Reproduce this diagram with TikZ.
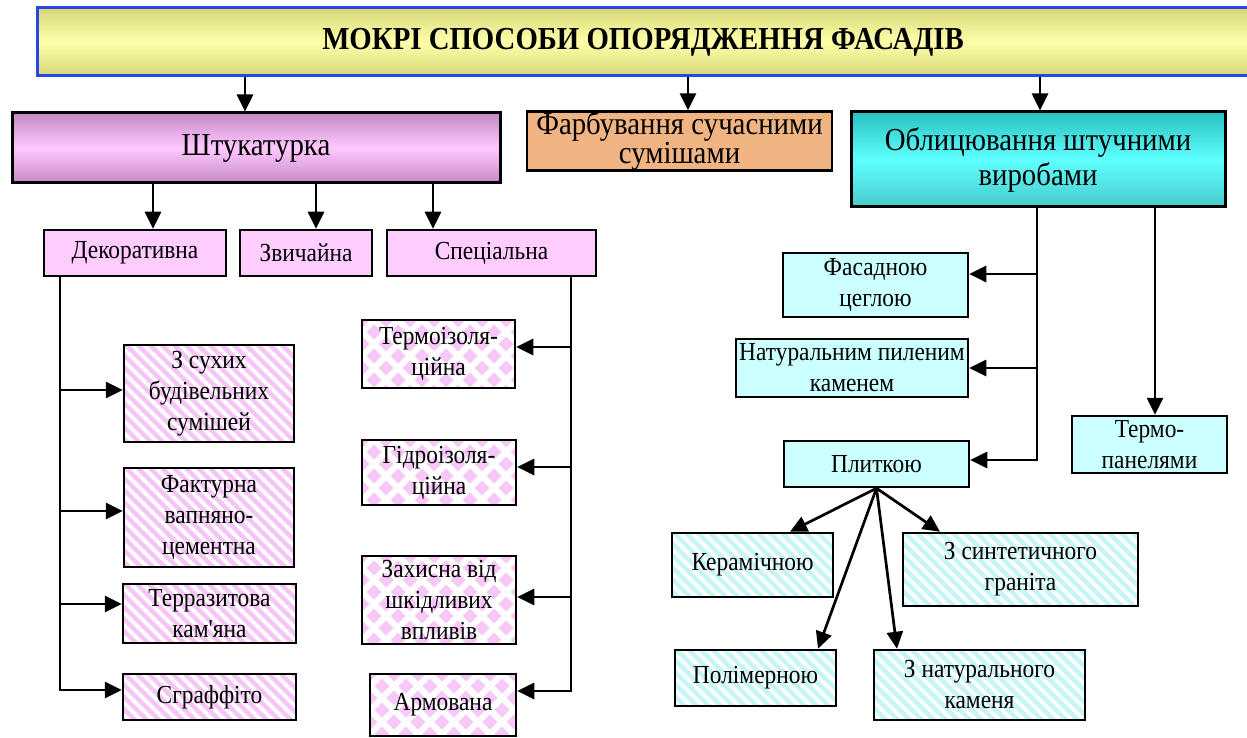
\documentclass[tikz,border=0pt]{standalone}
\usepackage{fontspec}
\setmainfont{Liberation Serif}[FakeStretch=0.9]
\newfontfamily\plainrm{Liberation Serif}[FakeStretch=0.9]
\usetikzlibrary{arrows.meta,calc}
\definecolor{stripepink}{RGB}{246,196,246}
\definecolor{diapink}{RGB}{248,200,248}
\definecolor{stripecyan}{RGB}{196,246,246}
\definecolor{solidpink}{RGB}{255,204,255}
\definecolor{solidcyan}{RGB}{204,255,255}
\definecolor{tan}{RGB}{240,180,130}
\definecolor{purpedge}{RGB}{196,136,196}
\definecolor{purpmid}{RGB}{255,200,255}
\definecolor{cyanedge}{RGB}{40,192,192}
\definecolor{cyanmid}{RGB}{96,255,255}
\definecolor{yeledge}{RGB}{214,214,120}
\definecolor{yelmid}{RGB}{255,255,170}
\definecolor{titleblue}{RGB}{40,70,230}
\newcommand{\fsz}[2]{\fontsize{#1}{#2}\selectfont}
\newcommand{\apos}{{\plainrm\char39}}
\begin{document}
\begin{tikzpicture}[x=1pt,y=-1pt,
  box/.style={draw=black, line width=2.5pt, align=center, inner sep=0pt, text=black, font=\fsz{26}{31}},
  bigbox/.style={box, line width=3pt},
  titlebox/.style={draw=titleblue, line width=3pt, top color=yeledge, bottom color=yeledge, middle color=yelmid, align=center, inner sep=0pt, font=\bfseries\fsz{32}{36}},
  purpbox/.style={bigbox, top color=purpedge, bottom color=purpedge, middle color=purpmid, font=\fsz{32}{36}},
  cyanbox/.style={bigbox, top color=cyanedge, bottom color=cyanedge!85!white, middle color=cyanmid, font=\fsz{32}{35}},
  tanbox/.style={box, fill=tan, font=\fsz{32}{27}},
  pinkbox/.style={box, fill=solidpink},
  cyansolid/.style={box, fill=solidcyan},
  stripes/.style={box, fill=white, path picture={
      \foreach \k in {-130,-118,...,250}{
        \draw[line width=4.4pt,#1] ([xshift=\k pt]path picture bounding box.north west) -- ++(140,140);}}},
  diamonds/.style={box, fill=white, path picture={
      \foreach \i in {0,24,...,192}{\foreach \j in {0,24,...,120}{
        \fill[#1] ($(path picture bounding box.north west)+(\i,\j)$) +(-7.5,0) -- +(0,7.5) -- +(7.5,0) -- +(0,-7.5) -- cycle;
        \fill[#1] ($(path picture bounding box.north west)+(\i+12,\j+12)$) +(-7.5,0) -- +(0,7.5) -- +(7.5,0) -- +(0,-7.5) -- cycle;}}}},
  arr/.style={-{Triangle[length=17pt,width=16pt]}, line width=2.7pt},
]
\useasboundingbox (0,0) rectangle (1247,738);
\fill[white] (0,0) rectangle (1247,738);

% title
\node[titlebox, minimum width=1212pt, minimum height=68pt] (title) at (643,42) {МОКРІ СПОСОБИ ОПОРЯДЖЕННЯ ФАСАДІВ};

% level 1
\node[purpbox, minimum width=488pt, minimum height=70pt] (stuk) at (256,148) {Штукатурка};
\node[tanbox, minimum width=305pt, minimum height=58pt] (farb) at (679.5,141) {Фарбування сучасними\\сумішами};
\node[cyanbox, minimum width=374pt, minimum height=95pt] (oblic) at (1038,159.5) {Облицювання штучними\\виробами};

% level 2 plaster
\node[pinkbox, minimum width=182pt, minimum height=46pt] (dek) at (135,253) {Декоративна};
\node[pinkbox, minimum width=132pt, minimum height=46pt] (zvych) at (306,253) {Звичайна};
\node[pinkbox, minimum width=209pt, minimum height=46pt] (spec) at (491.5,253) {Спеціальна};

% decorative
\node[stripes=stripepink, minimum width=170pt, minimum height=97pt] (s1) at (209,393.5) {З сухих\\будівельних\\сумішей};
\node[stripes=stripepink, minimum width=170pt, minimum height=99pt] (s2) at (209,517.5) {Фактурна\\вапняно-\\цементна};
\node[stripes=stripepink, minimum width=173pt, minimum height=59pt] (s3) at (209.5,613.5) {Терразитова\\кам\apos яна};
\node[stripes=stripepink, minimum width=173pt, minimum height=46pt] (s4) at (209.5,697) {Сграффіто};

% special
\node[diamonds=diapink, minimum width=153pt, minimum height=68pt] (p1) at (438.5,354) {Термоізоля-\\ційна};
\node[diamonds=diapink, minimum width=154pt, minimum height=65pt] (p2) at (439,472.5) {Гідроізоля-\\ційна};
\node[diamonds=diapink, minimum width=154pt, minimum height=88pt] (p3) at (439,600) {Захисна від\\шкідливих\\впливів};
\node[diamonds=diapink, minimum width=146pt, minimum height=62pt] (p4) at (443,705) {Армована};

% cladding
\node[cyansolid, minimum width=185pt, minimum height=64pt] (f1) at (875.5,285) {Фасадною\\цеглою};
\node[cyansolid, minimum width=232pt, minimum height=58pt] (f2) at (852,368) {Натуральним пиленим\\каменем};
\node[cyansolid, minimum width=185pt, minimum height=46pt] (f3) at (876.5,464) {Плиткою};
\node[cyansolid, minimum width=155pt, minimum height=57pt] (f4) at (1149.5,444.5) {Термо-\\панелями};

% tiles
\node[stripes=stripecyan, minimum width=161pt, minimum height=64pt] (t1) at (752.5,565) {Керамічною};
\node[stripes=stripecyan, minimum width=235pt, minimum height=73pt] (t2) at (1020.5,569.5) {З синтетичного\\граніта};
\node[stripes=stripecyan, minimum width=161pt, minimum height=56pt] (t3) at (755.5,678) {Полімерною};
\node[stripes=stripecyan, minimum width=211pt, minimum height=70pt] (t4) at (979.5,685) {З натурального\\каменя};

% connector coordinates
\coordinate (a1) at (245,0);
\coordinate (a2) at (688,0);
\coordinate (a3) at (1040,0);
\coordinate (b1) at (153,0);
\coordinate (b2) at (316,0);
\coordinate (b3) at (433,0);
\coordinate (dl) at (60,0);
\coordinate (sl) at (571,0);
\coordinate (ol) at (1037,0);
\coordinate (tl) at (1155,0);
\coordinate (e1) at (790,0);
\coordinate (e2) at (940,0);
\coordinate (e3) at (818,0);
\coordinate (e4) at (897,0);

% top arrows
\draw[arr] (title.south -| a1) -- (stuk.north -| a1);
\draw[arr] (title.south -| a2) -- (farb.north -| a2);
\draw[arr] (title.south -| a3) -- (oblic.north -| a3);
\draw[arr] (stuk.south -| b1) -- (dek.north -| b1);
\draw[arr] (stuk.south -| b2) -- (zvych.north -| b2);
\draw[arr] (stuk.south -| b3) -- (spec.north -| b3);

% decorative branches
\draw[arr] (dek.south -| dl) |- ([yshift=7pt]s4.west);
\draw[arr] ([yshift=3.5pt]s1.west -| dl) -- ([yshift=3.5pt]s1.west);
\draw[arr] ([yshift=6.5pt]s2.west -| dl) -- ([yshift=6.5pt]s2.west);
\draw[arr] ([yshift=9.5pt]s3.west -| dl) -- ([yshift=9.5pt]s3.west);

% special branches
\draw[arr] (spec.south -| sl) |- ([yshift=14pt]p4.east);
\draw[arr] ([yshift=7pt]p1.east -| sl) -- ([yshift=7pt]p1.east);
\draw[arr] ([yshift=5.5pt]p2.east -| sl) -- ([yshift=5.5pt]p2.east);
\draw[arr] ([yshift=3pt]p3.east -| sl) -- ([yshift=3pt]p3.east);

% cladding branches
\draw[arr] (oblic.south -| ol) |- ([yshift=4pt]f3.east);
\draw[arr] ([yshift=11pt]f1.east -| ol) -- ([yshift=11pt]f1.east);
\draw[arr] (f2.east -| ol) -- (f2.east);
\draw[arr] (oblic.south -| tl) -- (f4.north -| tl);

% tiles
\draw[arr] (f3.south) -- (t1.north -| e1);
\draw[arr] (f3.south) -- (t2.north -| e2);
\draw[arr] (f3.south) -- (t3.north -| e3);
\draw[arr] (f3.south) -- (t4.north -| e4);
\end{tikzpicture}
\end{document}
